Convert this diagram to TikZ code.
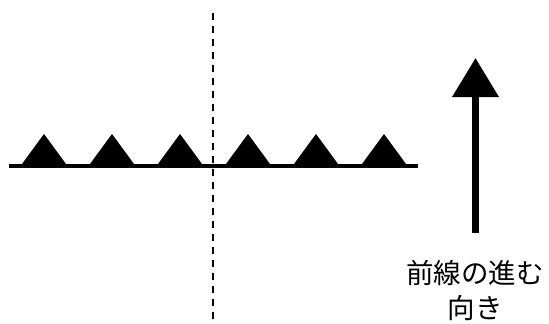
\documentclass[tikz,border=0pt]{standalone}
\usepackage{fontspec}
\newfontfamily\cjk{Noto Sans CJK JP}
\usetikzlibrary{arrows.meta}
\begin{document}
\begin{tikzpicture}[x=1pt,y=-1pt,
  front/.style={line width=4pt},
  tri/.style={fill=black},
  axis/.style={line width=1.4pt,dash pattern=on 7pt off 6pt},
  move/.style={line width=7pt,-{Triangle[width=45pt,length=39pt]}},
  lbl/.style={font=\cjk\fontsize{27.5}{35}\selectfont,align=center,inner sep=0pt}]
\useasboundingbox (0,0) rectangle (549,324);
\coordinate (fl) at (9,166);
\coordinate (fr) at (418,166);
\draw[front] (fl) -- (fr);
\foreach \x in {44,112,180,248,316,384}{
  \fill[tri] (\x-23.5,166) -- (\x,134) -- (\x+23.5,166) -- cycle;
}
\coordinate (dt) at (213,13);
\coordinate (db) at (213,322);
\draw[axis] (dt) -- (db);
\coordinate (as) at (475.5,233);
\coordinate (ae) at (475.5,58);
\draw[move] (as) -- (ae);
\node[lbl] (t) at (475,290) {前線の進む\\向き};
\end{tikzpicture}
\end{document}
